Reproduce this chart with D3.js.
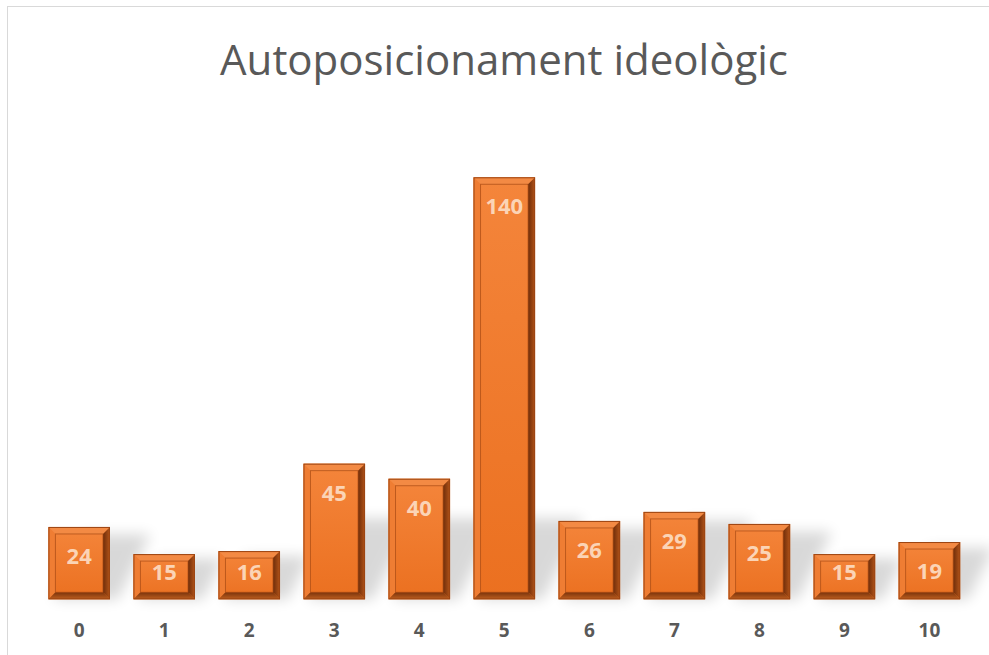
<html>
<head>
<meta charset="utf-8">
<title>Autoposicionament ideològic</title>
<script src="https://d3js.org/d3.v7.min.js"></script>
<style>
body { margin: 0; background: #fff; font-family: 'Open Sans', 'DejaVu Sans', sans-serif; }
svg { display: block; }
</style>
</head>
<body>
<svg id="chart" width="989" height="655"></svg>
<script type="text/javascript">
// chart data
var categories = ["0", "1", "2", "3", "4", "5", "6", "7", "8", "9", "10"];
var values = [24, 15, 16, 45, 40, 140, 26, 29, 25, 15, 19];
var title = "Autoposicionament ideològic";

var width = 989;
var height = 655;
var bev = 7; // bevel size

var svg = d3.select("#chart");

// frame
svg.append("rect")
	.attr("x", 7.5).attr("y", 6.5)
	.attr("width", 1000).attr("height", 700)
	.attr("fill", "#fff").attr("stroke", "#d9d9d9").attr("stroke-width", 1);

var defs = svg.append("defs");
var grad = defs.append("linearGradient").attr("id", "face")
	.attr("x1", 0).attr("y1", 0).attr("x2", 0).attr("y2", 1);
grad.append("stop").attr("offset", "0%").attr("stop-color", "#f4853b");
grad.append("stop").attr("offset", "100%").attr("stop-color", "#eb7020");

var rgrad = defs.append("linearGradient").attr("id", "rightSide")
	.attr("x1", 0).attr("y1", 0).attr("x2", 1).attr("y2", 0);
rgrad.append("stop").attr("offset", "0%").attr("stop-color", "#6e2d0a");
rgrad.append("stop").attr("offset", "100%").attr("stop-color", "#b45418");

var bgrad = defs.append("linearGradient").attr("id", "bottomSide")
	.attr("x1", 0).attr("y1", 0).attr("x2", 0).attr("y2", 1);
bgrad.append("stop").attr("offset", "0%").attr("stop-color", "#7a330c");
bgrad.append("stop").attr("offset", "100%").attr("stop-color", "#c0601f");

var blur = defs.append("filter").attr("id", "shadowBlur")
	.attr("x", "-50%").attr("y", "-50%").attr("width", "200%").attr("height", "200%");
blur.append("feGaussianBlur").attr("stdDeviation", 7);

// scales
var x = d3.scaleBand()
	.domain(categories)
	.range([36.7, 971.9])
	.paddingInner(0.276)
	.paddingOuter(0.138);

var y = d3.scaleLinear()
	.domain([0, 160])
	.range([599.3, 117]);

var data = categories.map(function(c, i){ return {cat: c, val: values[i]}; });

// title
svg.append("text")
	.attr("x", 504).attr("y", 75)
	.attr("text-anchor", "middle")
	.attr("font-size", 42)
	.attr("fill", "#595959")
	.text(title);

// soft shadows
svg.append("g").selectAll("polygon").data(data).enter().append("polygon")
	.attr("points", function(d){
		var x0 = x(d.cat), x1 = x0 + x.bandwidth(), b = y(0), t = y(d.val);
		var h = b - t;
		var s = Math.min(h, 90);
		return [[x0 + 4, b], [x1 + 8, b], [x1 + 8 + s * 0.45, b - s * 0.9], [x0 + 4 + s * 0.45, b - s * 0.9]]
			.map(function(p){ return p.join(","); }).join(" ");
	})
	.attr("fill", "#000").attr("opacity", 0.15)
	.attr("filter", "url(#shadowBlur)");

// bars
var bars = svg.append("g").selectAll("g").data(data).enter().append("g");

bars.append("rect")
	.attr("x", function(d){ return x(d.cat); })
	.attr("y", function(d){ return y(d.val); })
	.attr("width", x.bandwidth())
	.attr("height", function(d){ return y(0) - y(d.val); })
	.attr("fill", "url(#face)");

function side(d, which){
	var x0 = x(d.cat), x1 = x0 + x.bandwidth(), t = y(d.val), b = y(0);
	var pts;
	if (which == "top") pts = [[x0, t], [x1, t], [x1 - bev, t + bev], [x0 + bev, t + bev]];
	if (which == "left") pts = [[x0, t], [x0 + bev, t + bev], [x0 + bev, b - bev], [x0, b]];
	if (which == "right") pts = [[x1, t], [x1, b], [x1 - bev, b - bev], [x1 - bev, t + bev]];
	if (which == "bottom") pts = [[x0, b], [x0 + bev, b - bev], [x1 - bev, b - bev], [x1, b]];
	return pts.map(function(p){ return p.join(","); }).join(" ");
}

var sides = [
	{k: "top", c: "#f38a44"},
	{k: "left", c: "#ef7d33"},
	{k: "right", c: "url(#rightSide)"},
	{k: "bottom", c: "url(#bottomSide)"}
];
sides.forEach(function(s){
	bars.append("polygon")
		.attr("points", function(d){ return side(d, s.k); })
		.attr("fill", s.c);
});

// inner edge of the bevel
bars.append("rect")
	.attr("x", function(d){ return x(d.cat) + bev; })
	.attr("y", function(d){ return y(d.val) + bev; })
	.attr("width", x.bandwidth() - 2 * bev)
	.attr("height", function(d){ return Math.max(0, y(0) - y(d.val) - 2 * bev); })
	.attr("fill", "none")
	.attr("stroke", "#a84a14").attr("stroke-width", 1).attr("stroke-opacity", 0.7);

// outer edge
bars.append("rect")
	.attr("x", function(d){ return x(d.cat) + 0.5; })
	.attr("y", function(d){ return y(d.val) + 0.5; })
	.attr("width", x.bandwidth() - 1)
	.attr("height", function(d){ return y(0) - y(d.val) - 1; })
	.attr("fill", "none")
	.attr("stroke", "#9c4513").attr("stroke-width", 1);

// value labels
bars.append("text")
	.attr("x", function(d){ return x(d.cat) + x.bandwidth() / 2; })
	.attr("y", function(d){ return Math.min(y(d.val) + 29, y(0) - 27); })
	.attr("dy", "0.36em")
	.attr("text-anchor", "middle")
	.attr("font-size", 22)
	.attr("font-weight", "bold")
	.attr("fill", "#fbd4b6")
	.text(function(d){ return d.val; });

// x axis
var xAxis = svg.append("g")
	.attr("transform", "translate(0," + y(0) + ")")
	.call(d3.axisBottom(x).tickSize(0).tickPadding(0));
xAxis.select(".domain").remove();
xAxis.selectAll("text")
	.attr("y", 38)
	.attr("dy", 0)
	.attr("font-family", "'Open Sans', sans-serif")
	.attr("font-size", 19)
	.attr("font-weight", "bold")
	.attr("fill", "#595959");
</script>
</body>
</html>
